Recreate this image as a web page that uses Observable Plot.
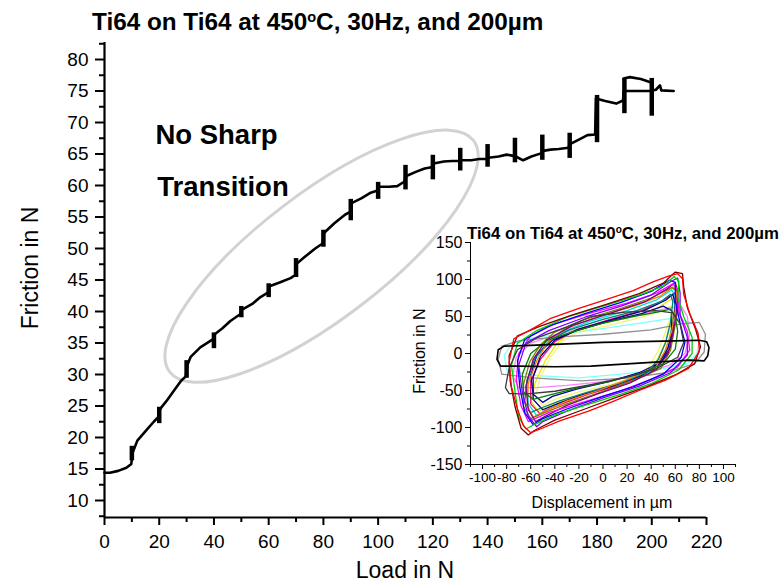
<!DOCTYPE html>
<html><head><meta charset="utf-8">
<script src="https://cdn.jsdelivr.net/npm/d3@7"></script>
<script src="https://cdn.jsdelivr.net/npm/@observablehq/plot@0.6"></script>
<style>
body{margin:0;background:#fff;}
#wrap{position:relative;width:783px;height:585px;font-family:Arial,"Liberation Sans",sans-serif;color:#000;overflow:hidden;background:#fff}
.lbl{position:absolute;white-space:nowrap;line-height:1}
.rot{transform:translate(-50%,-50%) rotate(-90deg)}
.ctr{transform:translate(-50%,-50%)}
sup{font-size:0.6em;vertical-align:0.55em;line-height:0}
</style></head><body><div id="wrap"></div>
<script>
// ---------- main chart data ----------
const loadX = [0,2,5,8,9.8,10.2,12,15,18,19.8,20.3,23,26,28,29.7,30.3,31.5,35,39.7,40.3,43,46,49.7,50.3,54,57,59.7,60.3,64,68,69.7,70.3,73,77,79.7,80.3,84,88,89.8,90.3,94,97,99.8,100.3,104,107,109.5,110.3,114,117,119.5,120.3,124,127,129.5,130.3,134,137,139.5,140.3,144,147,149.5,150.3,153,156,159.5,160.3,163,166,169.5,170.3,173,176.5,179.3,179.6,183,187,189.5,189.7,199.5,201.5,203,203.5,208];
const frictionY = [14.4,14.4,14.7,15.2,15.8,17.5,19.5,21,22.5,23.3,24.5,26,27.8,29,29.7,31.5,32.8,34.3,35.6,36.4,37.3,38.5,39.6,40.3,41.2,42.3,43,44,44.6,45.3,45.8,47.6,48.6,50,50.8,52.5,54,55.4,55.8,57.2,58,58.8,59.2,59.8,59.8,59.9,60.6,61.5,62.2,62.7,62.9,63.5,63.8,63.9,63.9,64,64,64.2,64.2,64.4,64.6,64.9,64.7,64.6,64,64.6,65.1,65.5,65.7,65.8,66,66.6,67.2,68,68.1,73.8,73.4,73,73.5,75,75,75.2,75.9,75.1,75];
const capLoad = [189.7,192,196,199.5];
const capFriction = [77,77.2,76.9,76.4];
const blobLoad = [10,20,30,40,50,60,70,80,90,100,110,120,130,140,150,160,170,180,190,200];
const blobLow  = [16.3,22.2,29.4,34.1,39,42.2,45.4,50.2,54.4,57.8,59.3,60.9,62.3,62.9,63.6,64,64.3,66.8,71.4,71];
const blobHigh = [18.6,24.8,32.2,36.6,40.8,44.4,48.4,52.9,57.8,60.5,63.2,64.8,65.9,66.5,67.5,68,68.3,74.3,77,77];
const xTicks = [0,20,40,60,80,100,120,140,160,180,200,220];
const xMinor = [10,30,50,70,90,110,130,150,170,190,210];
const yTicks = [10,15,20,25,30,35,40,45,50,55,60,65,70,75,80];
const yMinor = [7.5,12.5,17.5,22.5,27.5,32.5,37.5,42.5,47.5,52.5,57.5,62.5,67.5,72.5,77.5,82.5];
const noteText = ["No Sharp","Transition"];
const noteLoad = [18.6,19.3];
const noteFriction = [68.0,59.7];
const ellipseCenter = [79.5,48.7]; // load, friction

// ---------- inset data (displacement, friction pairs) ----------
const loopLightCyan = [-80,-22,-82,-2,-75,14,-55,22,-25,28,5,35,35,42,60,48,76,40,80,20,78,0,70,-14,45,-22,15,-28,-20,-33,-55,-30,-80,-22];
const loopLightYellow = [-50,-70,-56,-58,-52,-32,-44,-6,-34,16,-20,30,5,38,30,48,50,58,56,64,57,54,52,30,46,4,38,-18,28,-32,6,-42,-20,-52,-40,-62,-50,-70];
const loopLightMagenta = [-70,-46,-75,-30,-72,-5,-60,14,-40,25,-10,38,20,48,50,60,65,64,70,50,72,25,68,0,55,-16,30,-28,0,-38,-30,-43,-55,-46,-70,-46];
const loopYellow = [-54,-78,-60,-64,-56,-38,-48,-10,-38,14,-26,30,-2,40,25,50,46,62,57,74,60,66,57,40,51,12,44,-12,34,-30,12,-42,-14,-54,-38,-66,-54,-78];
const loopCyan = [-55,-84,-62,-68,-63,-40,-58,-12,-48,12,-36,28,-10,44,20,58,44,72,57,86,60,78,59,48,55,20,50,-4,40,-24,18,-38,-8,-52,-32,-66,-48,-77,-55,-84];
const loopGray = [-84,-28,-87,-8,-84,10,-70,17,-40,22,0,26,40,32,65,40,80,42,85,26,84,2,76,-14,52,-26,22,-33,-18,-37,-58,-33,-84,-28];
const loopPink = [-52,-82,-60,-68,-60,-38,-52,-8,-40,16,-22,32,6,46,32,58,50,72,60,82,62,70,60,44,56,16,50,-8,38,-28,15,-42,-12,-55,-34,-68,-48,-77,-52,-82];
const loopRoyal = [-50,-66,-58,-55,-60,-30,-55,-2,-42,18,-22,31,6,44,32,54,50,64,57,58,57,34,56,8,48,-12,30,-26,5,-38,-22,-48,-42,-58,-50,-66];
const loopNavy = [-50,-76,-58,-62,-58,-32,-52,-4,-40,18,-20,33,8,46,34,58,52,72,58,80,60,66,58,36,54,8,46,-14,32,-30,8,-44,-18,-56,-38,-68,-50,-76];
const loopDarkCyan = [-60,-80,-65,-65,-63,-35,-56,-5,-44,18,-28,32,0,46,28,58,48,70,56,80,58,70,56,42,52,15,46,-8,36,-26,14,-40,-12,-52,-36,-64,-52,-74,-60,-80];
const loopOrange = [-58,-86,-63,-70,-62,-40,-55,-10,-46,15,-32,33,-4,50,26,64,48,78,58,90,61,86,60,58,57,30,52,5,44,-18,22,-34,-4,-50,-30,-64,-48,-78,-58,-86];
const loopOlive = [-60,-88,-66,-72,-66,-42,-61,-12,-52,12,-40,29,-15,46,15,61,40,75,57,89,62,84,62,58,59,30,56,4,48,-20,26,-36,0,-51,-30,-68,-50,-81,-60,-88];
const loopPurple = [-56,-92,-62,-76,-64,-44,-58,-8,-47,18,-25,38,5,54,35,70,53,87,60,96,62,84,61,55,58,26,54,0,44,-22,22,-40,-5,-55,-30,-70,-48,-85,-56,-92];
const loopDarkGreen = [-58,-62,-66,-52,-67,-28,-60,0,-46,18,-24,30,0,41,25,50,45,56,56,60,60,50,62,30,60,6,50,-14,30,-28,5,-38,-20,-46,-44,-56,-58,-62];
const loopMagenta = [-62,-92,-68,-71,-72,-36,-70,0,-60,24,-40,40,-10,55,20,68,45,82,58,94,62,86,63,56,70,30,72,5,62,-18,40,-35,15,-50,-15,-65,-45,-80,-62,-92];
const loopBlue = [-58,-96,-65,-80,-69,-46,-71,-10,-65,19,-45,37,-15,54,15,69,40,84,55,99,60,96,60,71,64,41,68,15,65,-5,50,-28,25,-45,0,-58,-30,-75,-50,-88,-58,-96];
const loopViolet = [-55,-99,-62,-85,-67,-52,-70,-16,-64,14,-45,31,-15,49,15,64,40,79,56,97,62,102,64,82,64,52,70,22,70,-2,56,-26,30,-44,0,-60,-30,-78,-50,-92,-55,-99];
const loopGreen = [-64,-102,-70,-86,-73,-52,-76,-16,-71,14,-55,31,-30,49,0,64,30,79,50,91,59,104,63,98,62,76,67,50,74,22,74,0,63,-22,41,-40,15,-55,-15,-70,-40,-83,-57,-96,-64,-102];
const loopWine = [-62,-110,-68,-101,-73,-72,-77,-38,-78,-3,-71,24,-52,37,-26,52,4,67,30,81,50,95,60,110,66,108,67,90,70,62,77,32,81,9,76,-14,60,-29,36,-45,10,-60,-15,-75,-40,-90,-57,-104,-62,-110];
const loopRed = [-60,-107,-66,-98,-71,-75,-76,-45,-78,-12,-74,20,-58,34,-44,47,-20,61,3,73,25,85,42,97,55,105,62,108,66,101,67,80,72,54,79,27,80,3,71,-20,52,-36,30,-50,8,-65,-12,-78,-36,-91,-52,-102,-60,-107];
const loopDarkGray = [-78,-54,-81,-46,-78,-20,-71,5,-55,21,-30,36,-10,50,18,56,44,58,58,55,64,40,67,15,62,-5,45,-20,20,-32,-10,-42,-40,-51,-65,-55,-78,-54];
const loopBlack = [-85,-17,-88,-8,-87,5,-82,10,-60,11,-30,13,0,15,30,16,60,17,80,18,86,16,88,8,87,-3,84,-10,72,-9,50,-11,20,-14,-10,-17,-40,-18,-70,-17,-85,-17];
const loopOrder = [
  [loopLightCyan,"#80ffff"],[loopLightYellow,"#f2f27a"],[loopLightMagenta,"#ff80ff"],[loopYellow,"#e8e800"],
  [loopCyan,"#00e0e0"],[loopGray,"#909090"],[loopPink,"#ff0080"],[loopRoyal,"#0000a0"],[loopNavy,"#000080"],
  [loopDarkCyan,"#008080"],[loopOrange,"#ff8000"],[loopOlive,"#808000"],[loopPurple,"#800080"],
  [loopDarkGreen,"#008000"],[loopMagenta,"#ff00ff"],[loopBlue,"#0000ff"],[loopViolet,"#8000ff"],
  [loopGreen,"#00d000"],[loopWine,"#800000"],[loopRed,"#ff0000"],[loopDarkGray,"#3a3a3a"],[loopBlack,"#000000"]
];
const insetXTicks = [-100,-80,-60,-40,-20,0,20,40,60,80,100];
const insetXMinor = [-110,-90,-70,-50,-30,-10,10,30,50,70,90,110];
const insetYTicks = [-150,-100,-50,0,50,100,150];
const insetYMinor = [-125,-75,-25,25,75,125];

// ---------- build ----------
const FONT = 'Arial, "Liberation Sans", sans-serif';
const wrap = document.getElementById("wrap");
const curve = loadX.map((x,i)=>({x, y: frictionY[i]}));
const cap = capLoad.map((x,i)=>({x, y: capFriction[i]}));
const blobs = blobLoad.map((x,i)=>({x, y1: blobLow[i], y2: blobHigh[i]}));
const notes = noteText.map((t,i)=>({t, x: noteLoad[i], y: noteFriction[i]}));

const main = Plot.plot({
  width: 783, height: 585,
  marginLeft: 104, marginRight: 77, marginTop: 42, marginBottom: 68,
  style: {fontFamily: FONT, fontSize: "19px", color: "black", background: "transparent", overflow: "visible"},
  x: {domain: [0,220]},
  y: {domain: [7.3,82.7]},
  marks: [
    Plot.axisX({ticks: xMinor, tickSize: 5, tickFormat: () => "", strokeWidth: 2, label: null}),
    Plot.axisX({ticks: xTicks, tickSize: 8, tickPadding: 9, strokeWidth: 2, label: null, tickFormat: d => String(d)}),
    Plot.axisY({ticks: yMinor, tickSize: 5, tickFormat: () => "", strokeWidth: 2, label: null}),
    Plot.axisY({ticks: yTicks, tickSize: 9, tickPadding: 7, strokeWidth: 2, label: null, tickFormat: d => String(d)}),
    Plot.ruleX([0], {strokeWidth: 2.2}),
    Plot.ruleY([7.3], {strokeWidth: 2.2}),
    Plot.line(curve, {x: "x", y: "y", stroke: "black", strokeWidth: 2.6, strokeLinejoin: "round"}),
    Plot.line(cap, {x: "x", y: "y", stroke: "black", strokeWidth: 2.6}),
    Plot.ruleX(blobs, {x: "x", y1: "y1", y2: "y2", stroke: "black", strokeWidth: 4.5}),
    Plot.text(notes, {x: "x", y: "y", text: "t", textAnchor: "start", lineAnchor: "middle", fontSize: 27.5, fontWeight: "bold", fill: "black"})
  ]
});
// grey annotation ellipse, positioned through the scales
{
  const sx = main.scale("x"), sy = main.scale("y");
  const cx = sx.apply(ellipseCenter[0]), cy = sy.apply(ellipseCenter[1]);
  const e = document.createElementNS("http://www.w3.org/2000/svg","ellipse");
  e.setAttribute("cx", cx); e.setAttribute("cy", cy);
  e.setAttribute("rx", 191); e.setAttribute("ry", 63);
  e.setAttribute("transform", `rotate(-37.3 ${cx} ${cy})`);
  e.setAttribute("fill", "none"); e.setAttribute("stroke", "#d2d2d2"); e.setAttribute("stroke-width", 3);
  const firstLine = main.querySelector('g[aria-label="line"]');
  firstLine.parentNode.insertBefore(e, firstLine);
}
main.style.position = "absolute"; main.style.left = "0px"; main.style.top = "0px";
wrap.appendChild(main);

const loopMarks = loopOrder.map(([arr,color]) => {
  const pts = [];
  for (let i = 0; i < arr.length; i += 2) pts.push({x: arr[i], y: arr[i+1]});
  return Plot.line(pts, {x: "x", y: "y", stroke: color, strokeWidth: color === "#000000" ? 1.6 : 1.3, strokeLinejoin: "round"});
});
const inset = Plot.plot({
  width: 383, height: 300,
  marginLeft: 70, marginRight: 48, marginTop: 17, marginBottom: 61,
  style: {fontFamily: FONT, fontSize: "16px", color: "black", background: "transparent", overflow: "visible"},
  x: {domain: [-110,110]},
  y: {domain: [-150,150]},
  marks: [
    ...loopMarks,
    Plot.axisX({ticks: insetXMinor, tickSize: 3, tickFormat: () => "", label: null}),
    Plot.axisX({ticks: insetXTicks, tickSize: 5, tickPadding: 3, label: null, fontSize: 13.5, tickFormat: d => String(d)}),
    Plot.axisY({ticks: insetYMinor, tickSize: 3, tickFormat: () => "", label: null}),
    Plot.axisY({ticks: insetYTicks, tickSize: 5, tickPadding: 3, label: null, fontSize: 16, tickFormat: d => String(d)}),
    Plot.ruleX([-110], {strokeWidth: 1}),
    Plot.ruleY([-150], {strokeWidth: 1})
  ]
});
inset.style.position = "absolute"; inset.style.left = "400px"; inset.style.top = "225px";
wrap.appendChild(inset);

function label(html, cls, left, top, size, bold) {
  const d = document.createElement("div");
  d.className = "lbl " + cls;
  d.style.left = left + "px"; d.style.top = top + "px";
  d.style.fontSize = size + "px";
  if (bold) d.style.fontWeight = "bold";
  d.innerHTML = html;
  wrap.appendChild(d);
}
label("Ti64 on Ti64 at 450<sup>o</sup>C, 30Hz, and 200µm", "", 92, 10, 24.3, true);
label("Ti64 on Ti64 at 450<sup>o</sup>C, 30Hz, and 200µm", "", 467, 226, 16.8, true);
label("Load in N", "ctr", 405, 570, 23, false);
label("Friction in N", "rot", 30, 268, 23, false);
label("Friction in N", "rot", 420, 351, 16, false);
label("Displacement in µm", "ctr", 602, 503, 16, false);
</script></body></html>
